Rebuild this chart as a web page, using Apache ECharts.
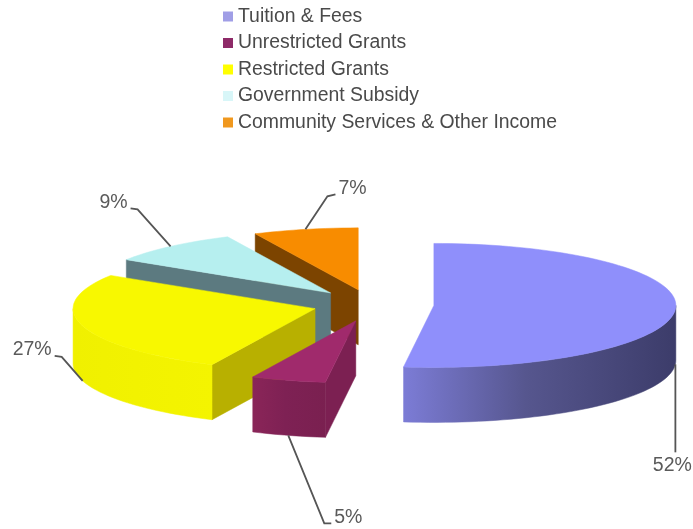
<!DOCTYPE html>
<html><head><meta charset="utf-8">
<style>html,body{margin:0;padding:0;background:#fff}#c{width:693px;height:529px;filter:blur(0.6px)}</style>
<script src="https://cdn.jsdelivr.net/npm/echarts@6/dist/echarts.min.js"></script>
</head><body><div id="c"></div>
<script>
var categories = ['Tuition & Fees','Unrestricted Grants','Restricted Grants','Government Subsidy','Community Services & Other Income'];
var values = [52,5,27,9,7];
var legendColors = ['#a09ee6','#8e2a68','#ffff00','#d8f6f8','#f0981e'];
var topColors = ['#8f8ffb','#a02a6c','#f8f800','#b6efef','#f88c00'];
var edgeColors = ['#5c5c9c','#7c2052','#b8b000','#5c7a80','#7c4400'];
var rimColors = [['#7c7cd6','#56568e','#3c3c6a'],['#8a2558','#7e2154','#7a2050'],['#f0f000','#f2f200','#f4f400'],['#5c7a80','#5c7a80','#5c7a80'],['#7c4400','#7c4400','#7c4400']];
var explode = [69,33,52,52,31];
var explodeYScale = [0.1,0.5,0.25,0.31,0.5];
var drawZ = [5,4,3,2,1];
var labelElbows = [[[0,88]],[[36,88],[43,88]],[[-21,-24],[-28,-25]],[[-33,-37],[-40,-38]],[[22,-33],[30,-35]]];
var labelAlign = ['center','left','right','right','left'];
var frontLabel = [true,true,true,false,false];

var cx=365, cy=305, rx=242, ry=62, depth=55, rad=Math.PI/180;
var fontFamily='"Liberation Sans", Arial, sans-serif';
var total = values.reduce(function(a,b){return a+b;},0);

function slice(i){
  var before = values.slice(0,i).reduce(function(a,b){return a+b;},0);
  var a0 = before/total*360, a1 = (before+values[i])/total*360, mid=(a0+a1)/2;
  return {a0:a0,a1:a1,mid:mid,
    x:cx+explode[i]*Math.sin(mid*rad), y:cy-explode[i]*explodeYScale[i]*Math.cos(mid*rad)};
}
function rim(s,a,dy){return [s.x+rx*Math.sin(a*rad), s.y-ry*Math.cos(a*rad)+(dy||0)];}
function arc(s,a,b,dy){var p=[],n=Math.max(2,Math.ceil(Math.abs(b-a)/2));
  for(var k=0;k<=n;k++)p.push(rim(s,a+(b-a)*k/n,dy));return p;}
function poly(points,fill,z2){return {type:'polygon',z2:z2,shape:{points:points},style:{fill:fill,stroke:fill,lineWidth:0.5}};}

function renderItem(i){return function(params,api){
  var s=slice(i),ch=[],apex=[s.x,s.y],apexB=[s.x,s.y+depth];
  function cut(a){return [apex,rim(s,a),rim(s,a,depth),apexB];}
  if(Math.sin(s.a0*rad)<0)ch.push(poly(cut(s.a0),edgeColors[i],1));
  if(Math.sin(s.a1*rad)>0)ch.push(poly(cut(s.a1),edgeColors[i],1));
  var w0=Math.max(s.a0,90),w1=Math.min(s.a1,270);
  if(w1>w0){
    var c=rimColors[i];
    ch.push(poly(arc(s,w0,w1).concat(arc(s,w1,w0,depth)),
      {type:'linear',x:0,y:0,x2:1,y2:0,colorStops:[{offset:0,color:c[0]},{offset:0.45,color:c[1]},{offset:1,color:c[2]}]},2));
  }
  ch.push(poly([apex].concat(arc(s,s.a0,s.a1)),topColors[i],3));
  var anc=rim(s,s.mid,frontLabel[i]?depth:0), pts=[anc];
  labelElbows[i].forEach(function(o){pts.push([anc[0]+o[0],anc[1]+o[1]]);});
  ch.push({type:'polyline',z2:6,shape:{points:pts},style:{stroke:'#555',lineWidth:1.8,fill:'none'}});
  var e=pts[pts.length-1], al=labelAlign[i];
  ch.push({type:'text',z2:7,style:{
    x:e[0]+(al==='left'?3:al==='right'?-3:-3),
    y:e[1]+(i===0?13:-6),
    text:api.value(0)+'%',align:al,verticalAlign:'middle',fill:'#5a5a5a',
    font:'19.5px '+fontFamily}});
  return {type:'group',children:ch};
};}

var chart=echarts.init(document.getElementById('c'),null,{renderer:'canvas'});
chart.setOption({
  animation:false,
  backgroundColor:'#fff',
  legend:{orient:'vertical',left:218,top:2,icon:'rect',itemWidth:10,itemHeight:10,itemGap:7.5,
    selectedMode:false,data:categories,
    textStyle:{fontFamily:fontFamily,fontSize:19.4,color:'#4a4a4a',lineHeight:18}},
  series:categories.map(function(name,i){return {
    type:'custom',name:name,coordinateSystem:'none',z:drawZ[i],
    itemStyle:{color:legendColors[i]},
    data:[[values[i]]],silent:true,renderItem:renderItem(i)};})
});
</script></body></html>
